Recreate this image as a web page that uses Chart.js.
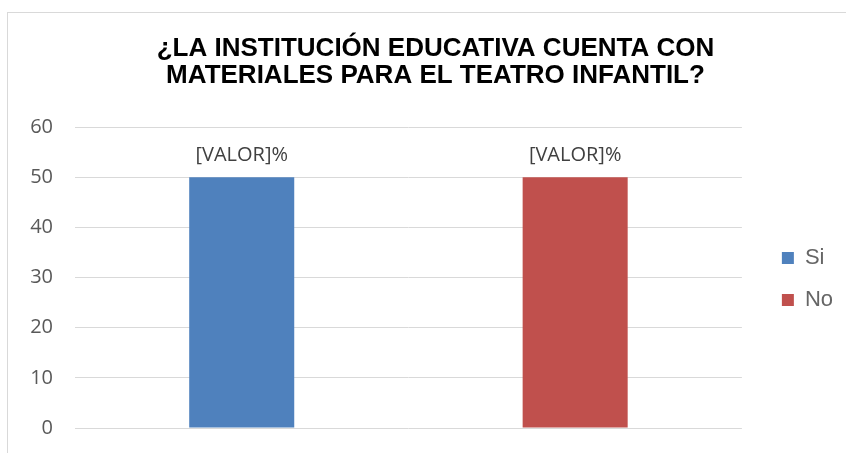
<!DOCTYPE html>
<html>
<head>
  <meta charset="UTF-8">
  <title>Teatro infantil</title>
  <script src="https://cdn.jsdelivr.net/npm/chart.js@4.4.1/dist/chart.umd.min.js"></script>
  <style>
    html, body { margin: 0; padding: 0; background: #fff; }
    #wrap { position: relative; width: 846px; height: 453px; overflow: hidden; }
    #frame { position: absolute; left: 7px; top: 12px; width: 900px; height: 500px;
             border-left: 1px solid #d9d9d9; border-top: 1px solid #d9d9d9; }
    #chart { position: absolute; left: 0; top: 0; }
  </style>
</head>
<body>
<div id="wrap">
  <div id="frame"></div>
  <canvas id="chart" width="846" height="453"></canvas>
</div>

<script>
  var categories = ['Si', 'No'];
  var values = [50, 50];
  var barColors = ['#4F81BD', '#C0504D'];
  var valueLabels = ['[VALOR]%', '[VALOR]%'];
  var titleLines = ['¿LA INSTITUCIÓN EDUCATIVA CUENTA CON', 'MATERIALES PARA EL TEATRO INFANTIL?'];

  // etiquetas encima de las barras
  var valueLabelPlugin = {
    id: 'valueLabels',
    afterDatasetsDraw: function (chart) {
      var ctx = chart.ctx;
      var meta = chart.getDatasetMeta(0);
      ctx.save();
      ctx.font = '20px "Open Sans"';
      ctx.fillStyle = '#404040';
      ctx.textAlign = 'center';
      ctx.textBaseline = 'middle';
      meta.data.forEach(function (bar, i) {
        ctx.fillText(valueLabels[i], bar.x, bar.y - 22);
      });
      ctx.restore();
    }
  };

  var ctx = document.getElementById('chart').getContext('2d');
  var chart = new Chart(ctx, {
    type: 'bar',
    data: {
      labels: categories,
      datasets: [{
        data: values,
        backgroundColor: barColors,
        categoryPercentage: 1,
        barPercentage: 0.315
      }]
    },
    options: {
      responsive: false,
      animation: false,
      layout: { padding: { top: 35, right: 3, bottom: 3, left: 28 } },
      plugins: {
        title: {
          display: true,
          text: titleLines,
          color: '#000',
          font: { family: 'Liberation Sans', size: 26, weight: 'bold', lineHeight: 1.04 },
          padding: { top: 0, bottom: 38 }
        },
        legend: {
          position: 'right',
          // título vacío: sólo baja la leyenda hasta el centro del área
          title: { display: true, text: '', font: { size: 12, lineHeight: 1 }, padding: { top: 61, bottom: 0 } },
          labels: {
            boxWidth: 12,
            boxHeight: 12,
            padding: 20,
            color: '#595959',
            font: { family: 'Liberation Sans', size: 22 },
            generateLabels: function () {
              return categories.map(function (c, i) {
                return { text: c, fillStyle: barColors[i], strokeStyle: barColors[i], lineWidth: 0, index: i };
              });
            }
          }
        },
        tooltip: { enabled: false }
      },
      scales: {
        x: {
          display: false
        },
        y: {
          min: 0,
          max: 60,
          ticks: { stepSize: 10, color: '#595959', font: { family: 'Open Sans', size: 20 }, padding: 22 },
          grid: { color: '#d9d9d9', drawTicks: false },
          border: { display: false },
          afterFit: function (scale) {
            scale.width = 47;
            scale.paddingBottom = 25;
          }
        },
        // espacio vacío entre el área del gráfico y la leyenda
        gap: {
          position: 'right',
          grid: { display: false },
          border: { display: false },
          ticks: { display: false },
          afterFit: function (scale) { scale.width = 20; }
        }
      }
    },
    plugins: [valueLabelPlugin]
  });
</script>
</body>
</html>
